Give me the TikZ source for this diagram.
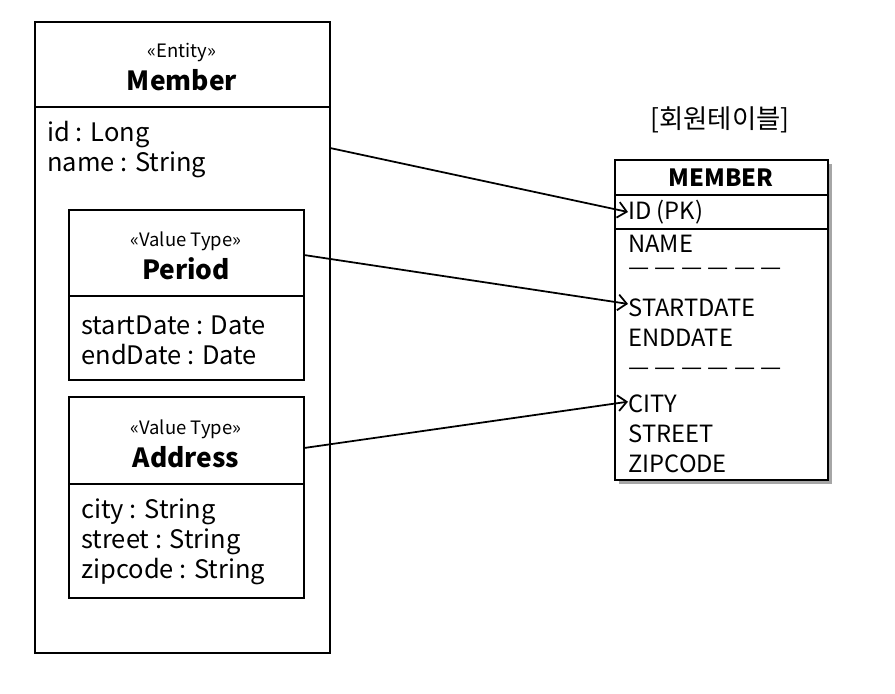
\documentclass[tikz,border=0pt]{standalone}
\usepackage{fontspec}
\setmainfont{Noto Sans CJK KR}
\usetikzlibrary{positioning, arrows.meta}

\tikzset{
    box/.style={draw, line width=1pt},
    stereo/.style={font=\fontsize{10.5}{12}\selectfont},
    cname/.style={font=\fontsize{15}{17}\selectfont\bfseries},
    attr/.style={anchor=west, font=\fontsize{14.5}{16}\selectfont, inner sep=0pt},
    col/.style={anchor=west, font=\fontsize{13.5}{15}\selectfont, inner sep=0pt},
    link/.style={-{Straight Barb[length=5pt,width=9pt]}, line width=1pt}
}

\begin{document}
\begin{tikzpicture}[x=0.02cm, y=-0.02cm]
    \useasboundingbox (0,0) rectangle (895,693);

    % entity
    \draw[box] (35,22) rectangle (330,653);
    \draw[box] (35,107) -- (330,107);
    \node[stereo] (ent) at (182,53) {«Entity»};
    \node[cname] (member) at (182,80) {Member};
    \node[attr] (id) at (47,135) {id : Long};
    \node[attr] (name) at (47,165) {name : String};

    % period
    \draw[box] (69,210) rectangle (304,380);
    \draw[box] (69,296) -- (304,296);
    \node[stereo] (vt1) at (186,241) {«Value Type»};
    \node[cname] (period) at (186,269) {Period};
    \node[attr] (start) at (81,325) {startDate : Date};
    \node[attr] (end) at (81,355) {endDate : Date};

    % address
    \draw[box] (69,397) rectangle (304,598);
    \draw[box] (69,484) -- (304,484);
    \node[stereo] (vt2) at (186,429) {«Value Type»};
    \node[cname] (address) at (186,457) {Address};
    \node[attr] (city) at (81,512) {city : String};
    \node[attr] (street) at (81,542) {street : String};
    \node[attr] (zip) at (81,572) {zipcode : String};

    % table
    \node[font=\fontsize{15}{17}\selectfont] (tname) at (720,120) {[회원테이블]};
    \fill[black!35] (619,164) rectangle (832,484);
    \draw[box, fill=white] (615,160) rectangle (828,480);
    \draw[box] (615,195) -- (828,195);
    \draw[box] (615,229) -- (828,229);
    \node[font=\fontsize{13.5}{15}\selectfont\bfseries] (thead) at (721,178) {MEMBER};
    \node[col] (cid) at (628,212) {ID (PK)};
    \node[col] (cname) at (628,244) {NAME};
    \node[col] (d1) at (628,272) {— — — — — —};
    \node[col] (cstart) at (628,308) {STARTDATE};
    \node[col] (cend) at (628,338) {ENDDATE};
    \node[col] (d2) at (628,372) {— — — — — —};
    \node[col] (ccity) at (628,404) {CITY};
    \node[col] (cstreet) at (628,434) {STREET};
    \node[col] (czip) at (628,464) {ZIPCODE};

    \coordinate (a1) at (330,148);
    \coordinate (a2) at (304,255);
    \coordinate (a3) at (304,448);
    \draw[link] (a1) -- (cid.west);
    \draw[link] (a2) -- ([yshift=-3pt]cstart.north west);
    \draw[link] (a3) -- ([yshift=-4pt]ccity.north west);
\end{tikzpicture}
\end{document}
